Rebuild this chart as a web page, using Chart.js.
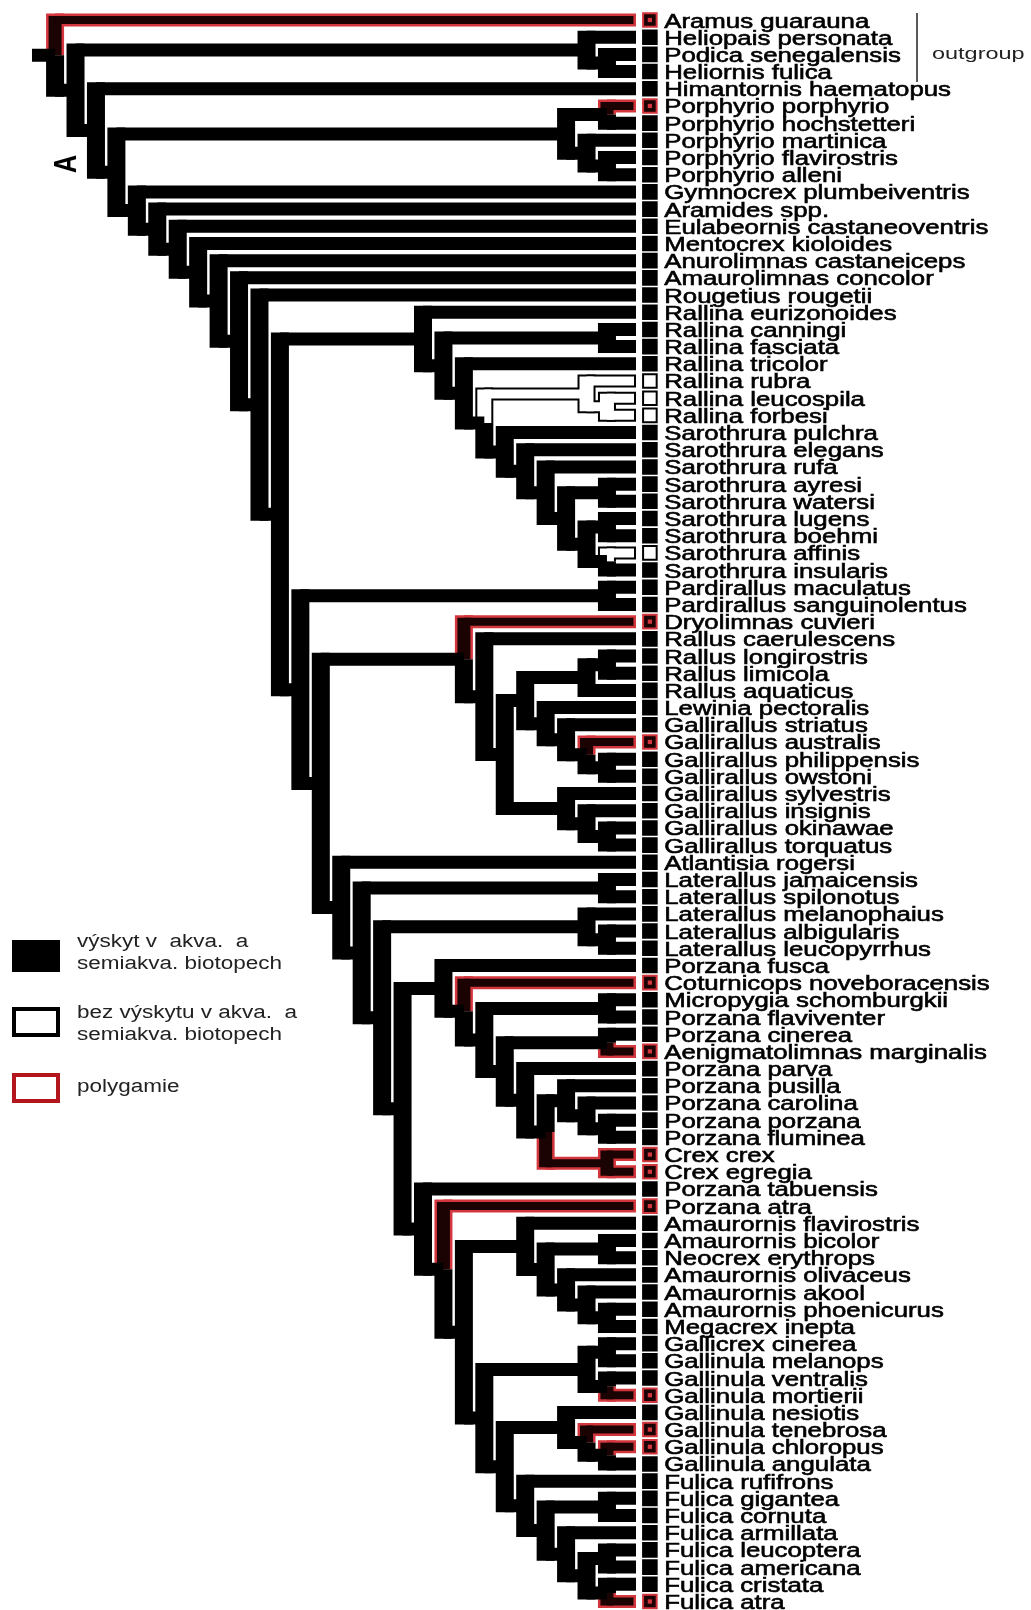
<!DOCTYPE html>
<html>
<head>
<meta charset="utf-8">
<script src="https://cdn.jsdelivr.net/npm/chart.js@4.4.1/dist/chart.umd.min.js"></script>
<style>
  html, body { margin: 0; padding: 0; background: #fff; }
  #strom { display: block; }
</style>
</head>
<body>
<canvas id="strom" width="1031" height="1610"></canvas>
<script>
// taxony v poradi shora dolu
const taxa = [
  'Aramus guarauna', 'Heliopais personata', 'Podica senegalensis', 'Heliornis fulica',
  'Himantornis haematopus', 'Porphyrio porphyrio', 'Porphyrio hochstetteri', 'Porphyrio martinica',
  'Porphyrio flavirostris', 'Porphyrio alleni', 'Gymnocrex plumbeiventris', 'Aramides spp.',
  'Eulabeornis castaneoventris', 'Mentocrex kioloides', 'Anurolimnas castaneiceps', 'Amaurolimnas concolor',
  'Rougetius rougetii', 'Rallina eurizonoides', 'Rallina canningi', 'Rallina fasciata',
  'Rallina tricolor', 'Rallina rubra', 'Rallina leucospila', 'Rallina forbesi',
  'Sarothrura pulchra', 'Sarothrura elegans', 'Sarothrura rufa', 'Sarothrura ayresi',
  'Sarothrura watersi', 'Sarothrura lugens', 'Sarothrura boehmi', 'Sarothrura affinis',
  'Sarothrura insularis', 'Pardirallus maculatus', 'Pardirallus sanguinolentus', 'Dryolimnas cuvieri',
  'Rallus caerulescens', 'Rallus longirostris', 'Rallus limicola', 'Rallus aquaticus',
  'Lewinia pectoralis', 'Gallirallus striatus', 'Gallirallus australis', 'Gallirallus philippensis',
  'Gallirallus owstoni', 'Gallirallus sylvestris', 'Gallirallus insignis', 'Gallirallus okinawae',
  'Gallirallus torquatus', 'Atlantisia rogersi', 'Laterallus jamaicensis', 'Laterallus spilonotus',
  'Laterallus melanophaius', 'Laterallus albigularis', 'Laterallus leucopyrrhus', 'Porzana fusca',
  'Coturnicops noveboracensis', 'Micropygia schomburgkii', 'Porzana flaviventer', 'Porzana cinerea',
  'Aenigmatolimnas marginalis', 'Porzana parva', 'Porzana pusilla', 'Porzana carolina',
  'Porzana porzana', 'Porzana fluminea', 'Crex crex', 'Crex egregia',
  'Porzana tabuensis', 'Porzana atra', 'Amaurornis flavirostris', 'Amaurornis bicolor',
  'Neocrex erythrops', 'Amaurornis olivaceus', 'Amaurornis akool', 'Amaurornis phoenicurus',
  'Megacrex inepta', 'Gallicrex cinerea', 'Gallinula melanops', 'Gallinula ventralis',
  'Gallinula mortierii', 'Gallinula nesiotis', 'Gallinula tenebrosa', 'Gallinula chloropus',
  'Gallinula angulata', 'Fulica rufifrons', 'Fulica gigantea', 'Fulica cornuta',
  'Fulica armillata', 'Fulica leucoptera', 'Fulica americana', 'Fulica cristata',
  'Fulica atra'
];

// bez vyskytu v akva. a semiakva. biotopech (bile vetve)
const nonAquatic = [21, 22, 23, 31];
// polygamie (cervene vetve)
const polygamous = [0, 5, 35, 42, 56, 60, 66, 67, 69, 80, 82, 83, 92];

// topologie stromu - indexy do pole taxa
const porphyrio = [[5, 6], [7, [8, 9]]];
const sarothrura = [24, [25, [26, [[27, 28], [[29, 30], [31, 32]]]]]];
const rallina = [17, [[18, 19], [20, [[21, [22, 23]], sarothrura]]]];
const rallus = [[[37, 38], 39], [40, [41, [42, [43, 44]]]]];
const dryolimnas = [35, [36, [rallus, [45, [46, [47, 48]]]]]];
const porzanaP6 = [[62, [63, [64, 65]]], [66, 67]];
const porzana = [55, [56, [[57, 58], [[59, 60], [61, porzanaP6]]]]];
const amaurornis = [70, [[71, 72], [73, [74, [75, 76]]]]];
const gallinulaA = [[77, 78], [79, 80]];
const gallinulaB = [81, [82, [83, 84]]];
const fulica = [85, [[86, 87], [88, [[89, 90], [91, 92]]]]];
const lowerCore = [68, [69, [amaurornis, [gallinulaA, [gallinulaB, fulica]]]]];
const crakes = [[50, 51], [[52, [53, 54]], [porzana, lowerCore]]];
const n12 = [[33, 34], [dryolimnas, [49, crakes]]];
const rallidae = [porphyrio, [10, [11, [12, [13, [14, [15, [16, [rallina, n12]]]]]]]]];
const tree = [0, [[1, [2, 3]], [4, rallidae]]];

// meritko (px na jednotku)
const X_PX = 20.44;     // jedna uroven stromu
const Y_PX = 17.19;     // jeden radek
const TIP_PX = 627.4;   // stred koncu vetvi
const ROW0_PX = 20;
const V_W = 18, H_W = 13;  // sirka svislych / vodorovnych car
const TIP_PAD = 8.6;
const RED = '#d3363d', RED_IN = '#1c0303';

function layout(node) {
  if (typeof node === 'number') {
    return { y: node, h: 0, leaf: true, poly: polygamous.includes(node), white: nonAquatic.includes(node), kids: [] };
  }
  const kids = node.map(layout);
  return {
    y: (kids[0].y + kids[kids.length - 1].y) / 2,
    h: 1 + Math.max(...kids.map(k => k.h)),
    leaf: false,
    poly: kids.every(k => k.poly),
    white: kids.every(k => k.white),
    kids
  };
}

const root = layout(tree);
const branches = { white: [], red: [], black: [] };
(function walk(n) {
  n.kids.forEach(c => {
    const cls = c.white ? 'white' : (c.poly ? 'red' : 'black');
    branches[cls].push({ p: n, c });
    walk(c);
  });
})(root);

function segs(list, inset) {
  const v = [], hz = [];
  list.forEach(({ p, c }) => {
    const dir = c.y > p.y ? 1 : -1;
    const ext = (H_W / 2 - inset) / Y_PX;
    v.push({ x: -p.h, y: p.y }, { x: -p.h, y: c.y + dir * ext }, { x: null, y: null });
    const end = c.leaf ? (TIP_PAD - inset) / X_PX : -c.h;
    hz.push({ x: -p.h, y: c.y }, { x: end, y: c.y }, { x: null, y: null });
  });
  return { v, hz };
}

let order = 100;
function lineSet(data, color, width) {
  return {
    data, borderColor: color, borderWidth: width, pointRadius: 0, pointHitRadius: 0,
    spanGaps: false, borderCapStyle: 'butt', tension: 0, order: order--
  };
}

const datasets = [];
const wOut = segs(branches.white, 0), wIn = segs(branches.white, 2);
datasets.push(lineSet(wOut.v, '#000', V_W), lineSet(wOut.hz, '#000', H_W));
datasets.push(lineSet(wIn.v, '#fff', V_W - 4), lineSet(wIn.hz, '#fff', H_W - 4));
const rOut = segs(branches.red, 0), rIn = segs(branches.red, 2.5);
datasets.push(lineSet(rOut.v, RED, V_W), lineSet(rOut.hz, RED, H_W));
datasets.push(lineSet(rIn.v, RED_IN, V_W - 5), lineSet(rIn.hz, RED_IN, H_W - 5));
const bl = segs(branches.black, 0);
// kratky koren vlevo
bl.hz.push({ x: -root.h - 1.13, y: root.y }, { x: -root.h, y: root.y }, { x: null, y: null });
datasets.push(lineSet(bl.v, '#000', V_W), lineSet(bl.hz, '#000', H_W));

// ctverecky u jmen
const SQ_X = 1.1;
const squares = taxa.map((t, i) => ({ x: SQ_X, y: i }));
datasets.push({
  data: squares, showLine: false, pointStyle: 'rect', pointRadius: 9.6, borderWidth: 2,
  pointBackgroundColor: taxa.map((t, i) => nonAquatic.includes(i) ? '#fff' : (polygamous.includes(i) ? RED_IN : '#000')),
  pointBorderColor: taxa.map((t, i) => polygamous.includes(i) ? RED : '#000'),
  order: order--
});
datasets.push({
  data: polygamous.map(i => ({ x: SQ_X, y: i })), showLine: false, pointStyle: 'rect',
  pointRadius: 3, borderWidth: 0, pointBackgroundColor: RED, order: order--
});

function stretched(ctx, text, x, y, font, sx, color, bold) {
  ctx.save();
  ctx.translate(x, y);
  ctx.scale(sx, 1);
  ctx.font = font;
  ctx.fillStyle = color;
  ctx.fillText(text, 0, 0);
  if (bold) {
    ctx.strokeStyle = color;
    ctx.lineWidth = bold;
    ctx.strokeText(text, 0, 0);
  }
  ctx.restore();
}

const textPlugin = {
  id: 'texty',
  afterDatasetsDraw(chart) {
    const { ctx } = chart;
    const xs = chart.scales.x, ys = chart.scales.y;
    ctx.save();
    ctx.textBaseline = 'alphabetic';
    ctx.textAlign = 'left';
    const lx = xs.getPixelForValue(1.8);
    taxa.forEach((name, i) => {
      stretched(ctx, name, lx, ys.getPixelForValue(i) + 7.5, '20px "Liberation Sans", Arial, sans-serif', 1.29, '#000', 0.6);
    });

    // outgroup
    ctx.strokeStyle = '#222';
    ctx.lineWidth = 1.5;
    ctx.beginPath();
    ctx.moveTo(917, 13);
    ctx.lineTo(917, 82);
    ctx.stroke();
    stretched(ctx, 'outgroup', 932, 59, '17px "Liberation Sans", Arial, sans-serif', 1.38, '#222');

    // A
    ctx.save();
    ctx.translate(67, 164);
    ctx.scale(1.25, 1);
    ctx.rotate(-Math.PI / 2);
    ctx.font = 'bold 25px "Liberation Sans", Arial, sans-serif';
    ctx.fillStyle = '#000';
    ctx.textAlign = 'center';
    ctx.textBaseline = 'middle';
    ctx.fillText('A', 0, 0);
    ctx.restore();

    // legenda
    ctx.fillStyle = '#000';
    ctx.fillRect(12, 940, 48, 32);
    ctx.lineWidth = 4;
    ctx.strokeStyle = '#000';
    ctx.strokeRect(14, 1009, 44, 26);
    ctx.strokeStyle = '#b3171d';
    ctx.strokeRect(14, 1075, 44, 26);
    const lf = '18px "Liberation Sans", Arial, sans-serif';
    stretched(ctx, 'výskyt v  akva.  a', 77, 947, lf, 1.25, '#222');
    stretched(ctx, 'semiakva. biotopech', 77, 969, lf, 1.25, '#222');
    stretched(ctx, 'bez výskytu v akva.  a', 77, 1018, lf, 1.25, '#222');
    stretched(ctx, 'semiakva. biotopech', 77, 1040, lf, 1.25, '#222');
    stretched(ctx, 'polygamie', 77, 1092, lf, 1.25, '#222');
    ctx.restore();
  }
};

new Chart(document.getElementById('strom'), {
  type: 'line',
  data: { datasets },
  options: {
    responsive: false,
    animation: false,
    events: [],
    devicePixelRatio: 1,
    layout: { padding: 0, autoPadding: false },
    plugins: { legend: { display: false }, tooltip: { enabled: false } },
    scales: {
      x: { type: 'linear', display: false, min: -TIP_PX / X_PX, max: (1031 - TIP_PX) / X_PX },
      y: { type: 'linear', display: false, reverse: true, min: -ROW0_PX / Y_PX, max: (1610 - ROW0_PX) / Y_PX }
    }
  },
  plugins: [textPlugin]
});
</script>
</body>
</html>
